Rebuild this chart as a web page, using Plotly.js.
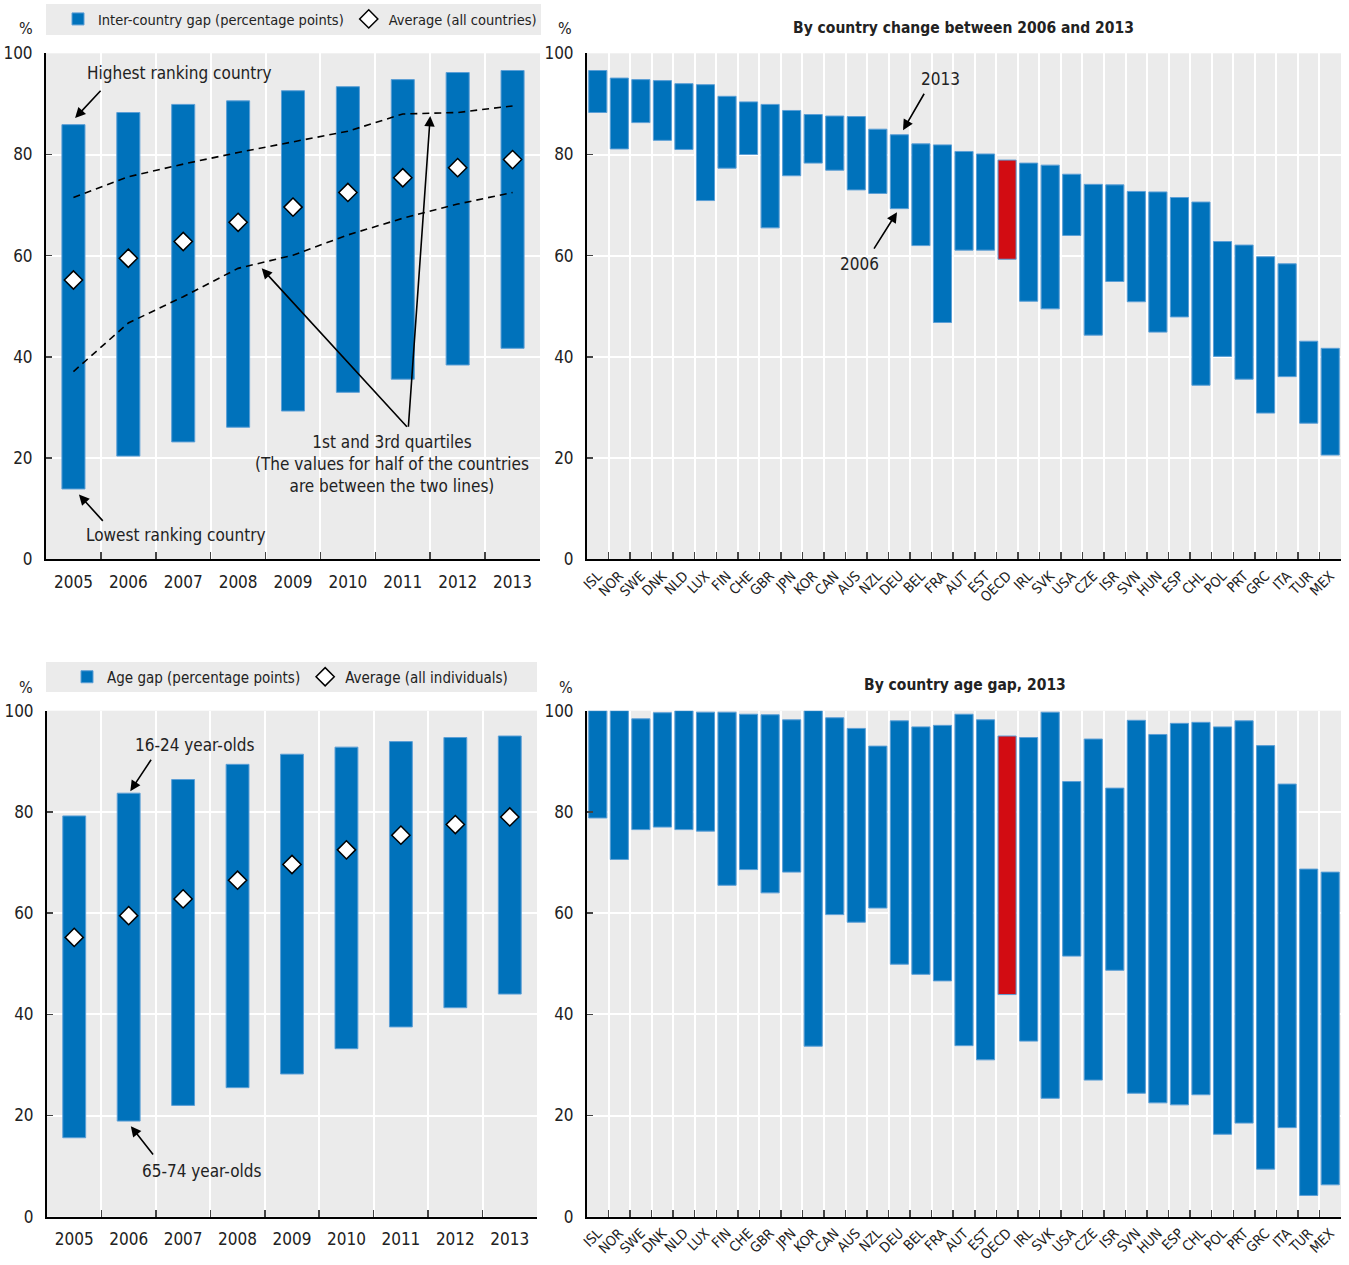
<!DOCTYPE html>
<html><head><meta charset="utf-8">
<script src="https://cdn.plot.ly/plotly-3.0.1.min.js"></script>
<style>html,body{margin:0;padding:0;background:#fff}#chart{width:1349px;height:1265px}</style>
</head><body><div id="chart"></div>
<script>
// ---------- DATA ----------
const years = ['2005','2006','2007','2008','2009','2010','2011','2012','2013'];
// Panel 1: inter-country gap
const highestCountry = [85.9, 88.3, 89.9, 90.6, 92.6, 93.4, 94.8, 96.2, 96.6];
const lowestCountry  = [13.9, 20.4, 23.2, 26.1, 29.3, 33.0, 35.6, 38.4, 41.7];
const avgCountries   = [55.2, 59.5, 62.8, 66.6, 69.6, 72.5, 75.4, 77.4, 79.0];
const quartile3      = [71.5, 75.6, 78.1, 80.4, 82.5, 84.6, 88.0, 88.3, 89.6];
const quartile1      = [37.1, 46.7, 51.9, 57.5, 60.1, 64.1, 67.4, 70.2, 72.5];
// Panel 2 and 4: countries
const countries = ['ISL','NOR','SWE','DNK','NLD','LUX','FIN','CHE','GBR','JPN','KOR','CAN','AUS','NZL','DEU','BEL','FRA','AUT','EST','OECD','IRL','SVK','USA','CZE','ISR','SVN','HUN','ESP','CHL','POL','PRT','GRC','ITA','TUR','MEX'];
const value2013 = [96.6,95.1,94.8,94.6,94.0,93.8,91.5,90.4,89.9,88.7,87.9,87.6,87.5,85.0,83.9,82.1,81.9,80.6,80.1,78.9,78.3,77.9,76.1,74.1,74.0,72.7,72.6,71.5,70.6,62.8,62.1,59.8,58.4,43.1,41.7];
const value2006 = [88.3,81.1,86.3,82.8,81.0,70.9,77.3,80.0,65.5,75.8,78.3,76.9,73.0,72.3,69.3,62.0,46.8,61.1,61.1,59.3,51.0,49.5,64.0,44.3,54.9,50.9,44.9,47.9,34.4,40.1,35.6,28.9,36.1,26.9,20.6];
// Panel 3: age gap
const age16to24 = [79.2, 83.7, 86.4, 89.4, 91.4, 92.8, 93.9, 94.7, 95.0];
const age65to74 = [15.6, 18.9, 22.0, 25.5, 28.2, 33.2, 37.5, 41.3, 44.0];
const avgIndividuals = [55.2, 59.5, 62.8, 66.5, 69.6, 72.5, 75.4, 77.5, 79.0];
// Panel 4: country age gap 2013
const young2013 = [100,100,98.4,99.6,100,99.7,99.7,99.3,99.2,98.2,100,98.6,96.5,93.0,98.0,96.8,97.1,99.3,98.2,95.0,94.7,99.7,86.0,94.4,84.7,98.1,95.3,97.5,97.7,96.8,98.0,93.1,85.5,68.7,68.1];
const old2013   = [78.8,70.6,76.5,77.0,76.5,76.2,65.5,68.6,64.0,68.1,33.7,59.7,58.2,61.0,49.9,47.9,46.6,33.8,31.0,43.9,34.7,23.4,51.5,27.0,48.7,24.4,22.5,22.1,24.1,16.3,18.5,9.4,17.6,4.2,6.3];

// ---------- STYLE ----------
const FONT = "'Liberation Sans Narrow','Arial Narrow','DejaVu Sans Condensed',sans-serif";
const BLUE = '#0072bb', RED = '#d20c12', TXT = '#222';
const W = 1349, H = 1265;
const px = v => v / W, py = v => 1 - v / H;
const diff = (a, b) => a.map((v, i) => +(v - b[i]).toFixed(2));
const colorsFor = cats => cats.map(c => c === 'OECD' ? RED : BLUE);

const traces = [
  {type:'bar', x:years, y:diff(highestCountry, lowestCountry), base:lowestCountry, width:0.42,
   marker:{color:BLUE, line:{color:'#5c9fd6', width:1}}, name:'Inter-country gap (percentage points)',
   xaxis:'x', yaxis:'y', legend:'legend', hoverinfo:'skip'},
  {type:'scatter', mode:'lines', x:years, y:quartile3, line:{color:'#000', width:1.6, dash:'7px,5px'},
   xaxis:'x', yaxis:'y', showlegend:false, hoverinfo:'skip'},
  {type:'scatter', mode:'lines', x:years, y:quartile1, line:{color:'#000', width:1.6, dash:'7px,5px'},
   xaxis:'x', yaxis:'y', showlegend:false, hoverinfo:'skip'},
  {type:'scatter', mode:'markers', x:years, y:avgCountries, name:'Average (all countries)',
   marker:{symbol:'diamond', size:14, color:'#fff', line:{color:'#000', width:1.5}},
   xaxis:'x', yaxis:'y', legend:'legend', hoverinfo:'skip'},
  {type:'bar', x:countries, y:diff(value2013, value2006), base:value2006, width:0.84,
   marker:{color:colorsFor(countries), line:{color:'#5c9fd6', width:1}},
   xaxis:'x2', yaxis:'y2', showlegend:false, hoverinfo:'skip'},
  {type:'bar', x:years, y:diff(age16to24, age65to74), base:age65to74, width:0.42,
   marker:{color:BLUE, line:{color:'#5c9fd6', width:1}}, name:'Age gap (percentage points)',
   xaxis:'x3', yaxis:'y3', legend:'legend2', hoverinfo:'skip'},
  {type:'scatter', mode:'markers', x:years, y:avgIndividuals, name:'Average (all individuals)',
   marker:{symbol:'diamond', size:14, color:'#fff', line:{color:'#000', width:1.5}},
   xaxis:'x3', yaxis:'y3', legend:'legend2', hoverinfo:'skip'},
  {type:'bar', x:countries, y:diff(young2013, old2013), base:old2013, width:0.84,
   marker:{color:colorsFor(countries), line:{color:'#5c9fd6', width:1}},
   xaxis:'x4', yaxis:'y4', showlegend:false, hoverinfo:'skip'}
];

const xBase = (dom, anchor, n, extra) => Object.assign({
  type:'category', domain:dom, anchor:anchor, range:[-0.5, n - 0.5],
  tickmode:'linear', tick0:0, dtick:1,
  showline:true, linecolor:'#000', linewidth:2,
  ticks:'inside', ticklen:7, tickwidth:1.5, tickcolor:'#444', tickson:'boundaries',
  showgrid:true, gridcolor:'#fff', gridwidth:2, zeroline:false, tickangle:0,
  tickfont:{size:17, color:TXT, family:FONT}, ticklabelstandoff:6, fixedrange:true
}, extra || {});
const yBase = (dom, anchor) => ({
  domain:dom, anchor:anchor, range:[0,100], tickvals:[0,20,40,60,80,100],
  showline:true, linecolor:'#000', linewidth:2, ticks:'inside', ticklen:6, tickwidth:1.5, tickcolor:'#444',
  showgrid:true, gridcolor:'#fff', gridwidth:2, zeroline:false,
  tickfont:{size:17, color:TXT, family:FONT}, ticklabelstandoff:8, fixedrange:true
});

const topY = [py(559.3), py(53.3)];
const botY = [py(1216.7), py(710.7)];

const ann = [];
const txt = (xref, yref, x, y, text, size, extra) => ann.push(Object.assign(
  {xref, yref, x, y, text, showarrow:false, xanchor:'center', yanchor:'middle',
   font:{size:size||17, color:TXT, family:FONT}}, extra||{}));
const arrow = (xref, yref, hx, hy, tx, ty) => ann.push({xref, yref, x:hx, y:hy, axref:xref, ayref:yref,
  ax:tx, ay:ty, text:'', showarrow:true, arrowhead:2, arrowsize:1.3, arrowwidth:1.6, arrowcolor:'#000'});

// % labels and titles
txt('paper','paper', px(26), py(29), '%', 16);
txt('paper','paper', px(565), py(29), '%', 16);
txt('paper','paper', px(26), py(687), '%', 16);
txt('paper','paper', px(566), py(687), '%', 16);
txt('paper','paper', px(963), py(28), '<b>By country change between 2006 and 2013</b>', 15.5);
txt('paper','paper', px(965), py(685), '<b>By country age gap, 2013</b>', 15.5);

// Panel 1 annotations
txt('x','y', 1.94, 96.1, 'Highest ranking country');
arrow('x','y', 0.03, 87.2, 0.52, 92.9);
txt('x','y', 1.87, 4.8, 'Lowest ranking country');
arrow('x','y', 0.10, 12.8, 0.56, 7.3);
txt('x','y', 5.80, 18.8, '1st and 3rd quartiles<br>(The values for half of the countries<br>are between the two lines)');
arrow('x','y', 3.43, 57.5, 6.10, 25.9);
arrow('x','y', 6.50, 87.6, 6.10, 25.9);

// Panel 2 annotations
txt('x2','y2', 15.93, 94.9, '2013');
arrow('x2','y2', 14.17, 84.8, 15.19, 92.3);
txt('x2','y2', 12.13, 58.3, '2006');
arrow('x2','y2', 13.89, 68.6, 12.78, 61.1);

// Panel 3 annotations
txt('x3','y3', 2.20, 93.2, '16-24 year-olds');
arrow('x3','y3', 1.03, 84.1, 1.43, 90.6);
txt('x3','y3', 2.33, 9.0, '65-74 year-olds');
arrow('x3','y3', 1.04, 17.9, 1.47, 12.0);

const rot = {tickangle:-45, tickfont:{size:14, color:TXT, family:FONT}, ticklabelstandoff:1};
const layout = {
  width:W, height:H, margin:{l:0, r:0, t:0, b:0},
  paper_bgcolor:'#fff', plot_bgcolor:'#ebebeb',
  font:{family:FONT, color:TXT, size:17},
  xaxis: xBase([px(46), px(540)], 'y', years.length),
  yaxis: yBase(topY, 'x'),
  xaxis2: xBase([px(587), px(1341)], 'y2', countries.length, rot),
  yaxis2: yBase(topY, 'x2'),
  xaxis3: xBase([px(47), px(537)], 'y3', years.length),
  yaxis3: yBase(botY, 'x3'),
  xaxis4: xBase([px(587), px(1341)], 'y4', countries.length, rot),
  yaxis4: yBase(botY, 'x4'),
  legend: {orientation:'h', x:px(58), xanchor:'left', y:py(19), yanchor:'middle', bgcolor:'rgba(0,0,0,0)',
           font:{size:14.5, color:TXT, family:FONT}, itemclick:false, itemdoubleclick:false},
  legend2: {orientation:'h', x:px(67), xanchor:'left', y:py(677), yanchor:'middle', bgcolor:'rgba(0,0,0,0)',
           font:{size:15, color:TXT, family:FONT}, itemclick:false, itemdoubleclick:false},
  shapes: [
    {type:'rect', xref:'paper', yref:'paper', x0:px(46), x1:px(541), y0:py(35), y1:py(4), fillcolor:'#ebebeb', line:{width:0}, layer:'below'},
    {type:'rect', xref:'paper', yref:'paper', x0:px(46), x1:px(537), y0:py(692), y1:py(662), fillcolor:'#ebebeb', line:{width:0}, layer:'below'}
  ],
  annotations: ann,
  showlegend:true
};

Plotly.newPlot('chart', traces, layout, {displayModeBar:false, staticPlot:true});
</script></body></html>
